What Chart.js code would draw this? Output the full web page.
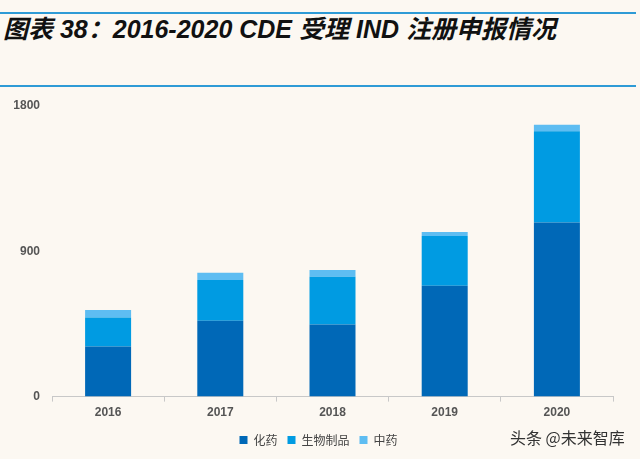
<!DOCTYPE html>
<html>
<head>
<meta charset="utf-8">
<script src="https://cdn.jsdelivr.net/npm/chart.js@4/dist/chart.umd.min.js"></script>
<style>
  html, body { margin:0; padding:0; background:#FCF8F2; }
  #wrap { position:relative; width:640px; height:459px; background:#FCF8F2; overflow:hidden; }
  #title { position:absolute; left:3px; top:14px; font-family:"Liberation Sans","Noto Sans CJK SC",sans-serif; font-weight:bold; font-style:italic; font-size:25px; line-height:30px; color:#111; white-space:nowrap; }
  .rule { position:absolute; left:0; width:636px; height:2px; background:#2E9BD6; }
  #wm { position:absolute; left:510px; top:427px; font-family:"Noto Sans CJK SC",sans-serif; font-size:16px; line-height:20px; color:#333; white-space:nowrap; }
  canvas { position:absolute; left:0; top:0; }
</style>
</head>
<body>
<div id="wrap">
  <div class="rule" style="top:12px"></div>
  <div id="title">图表 38：2016-2020 CDE 受理 IND 注册申报情况</div>
  <div class="rule" style="top:85px"></div>
  <canvas id="c" width="640" height="459"></canvas>
  <div id="wm">头条 @未来智库</div>
</div>
<script>
const categories = ["2016", "2017", "2018", "2019", "2020"];
const seriesNames = ["化药", "生物制品", "中药"];
const chemical = [311, 470, 447, 686, 1078];
const biologic = [179, 252, 295, 308, 565];
const tcm = [46, 45, 42, 26, 41];
const yTicks = [0, 900, 1800];
const colors = ["#0068B7", "#009BE2", "#5EBDF2"];

const shiftLegend = {
  id: 'shiftLegend',
  afterLayout(chart) {
    const lg = chart.legend;
    if (lg) { lg.left += 12; lg.right += 12; }
  }
};

const ctx = document.getElementById('c').getContext('2d');
new Chart(ctx, {
  type: 'bar',
  data: {
    labels: categories,
    datasets: [
      { label: seriesNames[0], data: chemical, backgroundColor: colors[0] },
      { label: seriesNames[1], data: biologic, backgroundColor: colors[1] },
      { label: seriesNames[2], data: tcm, backgroundColor: colors[2] }
    ]
  },
  plugins: [shiftLegend],
  options: {
    responsive: false,
    animation: false,
    devicePixelRatio: 1,
    layout: { padding: { left: 0, right: 27, top: 106, bottom: 3 } },
    datasets: { bar: { barPercentage: 0.82, categoryPercentage: 0.5 } },
    plugins: {
      title: { display: false },
      tooltip: { enabled: false },
      legend: {
        position: 'bottom',
        align: 'center',
        labels: {
          boxWidth: 8, boxHeight: 8, padding: 10,
          color: '#444',
          font: { family: "'Noto Sans CJK SC', sans-serif", size: 12 }
        }
      }
    },
    scales: {
      x: {
        stacked: true,
        offset: true,
        grid: { display: true, drawOnChartArea: false, offset: true, tickLength: 5, color: '#C8C8C8' },
        border: { display: true, color: '#C8C8C8' },
        ticks: { color: '#555', padding: 4, font: { family: "'Liberation Sans', sans-serif", size: 12, weight: 'bold' } }
      },
      y: {
        stacked: true,
        min: 0, max: 1800,
        afterBuildTicks: (s) => { s.ticks = yTicks.map(v => ({ value: v })); },
        afterFit: (s) => { s.width = 52; },
        grid: { display: false },
        border: { display: false },
        ticks: {
          color: '#555', padding: 4,
          callback: (v) => String(v),
          font: { family: "'Liberation Sans', sans-serif", size: 12, weight: 'bold' }
        }
      }
    }
  }
});
</script>
</body>
</html>
